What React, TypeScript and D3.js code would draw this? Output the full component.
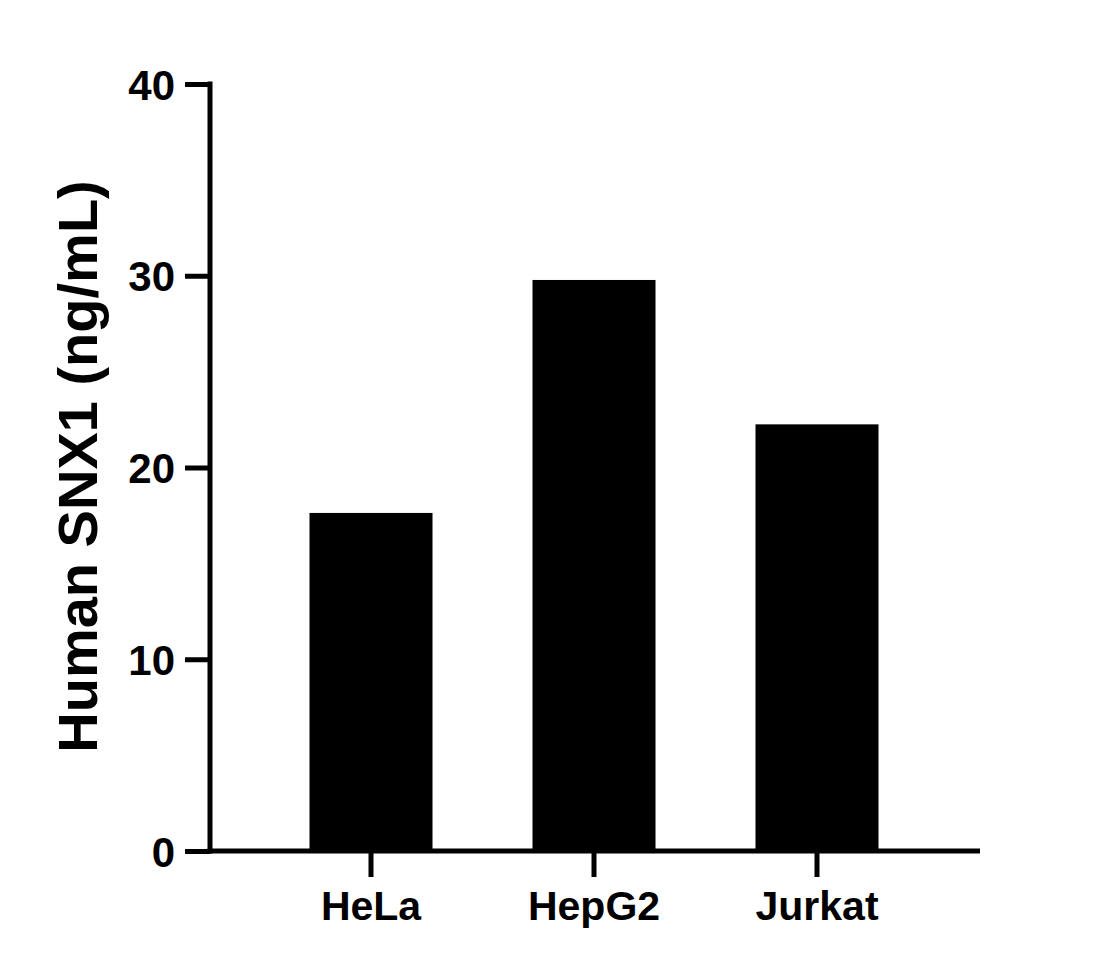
import { useEffect, useRef } from "react";
import * as d3 from "d3";

const categories = ["HeLa", "HepG2", "Jurkat"];
const values = [17.63, 29.78, 22.25];
const yTicks = [0, 10, 20, 30, 40];
const yTitle = "Human SNX1 (ng/mL)";

const FONT = "'Liberation Sans', Arial, sans-serif";

export default function App() {
  const ref = useRef<SVGSVGElement | null>(null);

  useEffect(() => {
    if (!ref.current) return;
    ref.current.innerHTML = "";

    const width = 1116,
      height = 968;
    const axisLeftX = 210,
      axisRightX = 980;

    const svg = d3.select(ref.current);

    const y = d3.scaleLinear().domain([0, 40]).range([851, 84]);
    const x = d3
      .scaleBand<string>()
      .domain(categories)
      .range([259.5, 928.5])
      .paddingInner(0.4484)
      .paddingOuter(0.2242);

    svg
      .append("rect")
      .attr("width", width)
      .attr("height", height)
      .attr("fill", "#fff");

    // bars
    svg
      .append("g")
      .selectAll("rect")
      .data(values)
      .join("rect")
      .attr("x", (_, i) => x(categories[i])!)
      .attr("width", x.bandwidth())
      .attr("y", (d) => y(d))
      .attr("height", (d) => y(0) - y(d))
      .attr("fill", "#000");

    // Y axis
    const yAxis = svg
      .append("g")
      .attr("transform", `translate(${axisLeftX},0)`)
      .call(
        d3
          .axisLeft(y)
          .tickValues(yTicks)
          .tickSize(25)
          .tickSizeOuter(0)
          .tickPadding(10)
      );
    yAxis.select(".domain").remove();
    yAxis.selectAll("line").attr("stroke", "#000").attr("stroke-width", 5);
    yAxis
      .selectAll("text")
      .attr("fill", "#000")
      .style("font-family", FONT)
      .style("font-weight", "bold")
      .style("font-size", "42px")
      .attr("dy", "0.36em");
    svg
      .append("line")
      .attr("x1", axisLeftX)
      .attr("x2", axisLeftX)
      .attr("y1", y(40) - 2.5)
      .attr("y2", y(0) + 2.5)
      .attr("stroke", "#000")
      .attr("stroke-width", 5);

    // X axis
    const xAxis = svg
      .append("g")
      .attr("transform", `translate(0,${y(0)})`)
      .call(d3.axisBottom(x).tickSize(26).tickSizeOuter(0).tickPadding(14));
    xAxis.select(".domain").remove();
    xAxis.selectAll("line").attr("stroke", "#000").attr("stroke-width", 5);
    xAxis
      .selectAll("text")
      .attr("fill", "#000")
      .style("font-family", FONT)
      .style("font-weight", "bold")
      .style("font-size", "41px")
      .attr("dy", "0.71em");
    svg
      .append("line")
      .attr("x1", axisLeftX - 2.5)
      .attr("x2", axisRightX)
      .attr("y1", y(0))
      .attr("y2", y(0))
      .attr("stroke", "#000")
      .attr("stroke-width", 5);

    // Y title
    svg
      .append("text")
      .attr("transform", `translate(97,${(178 + 755) / 2}) rotate(-90)`)
      .attr("text-anchor", "middle")
      .attr("fill", "#000")
      .style("font-family", FONT)
      .style("font-weight", "bold")
      .style("font-size", "56px")
      .text(yTitle);
  }, []);

  return (
    <svg
      ref={ref}
      width={1116}
      height={968}
      style={{ position: "absolute", left: 0, top: 0 }}
    />
  );
}
